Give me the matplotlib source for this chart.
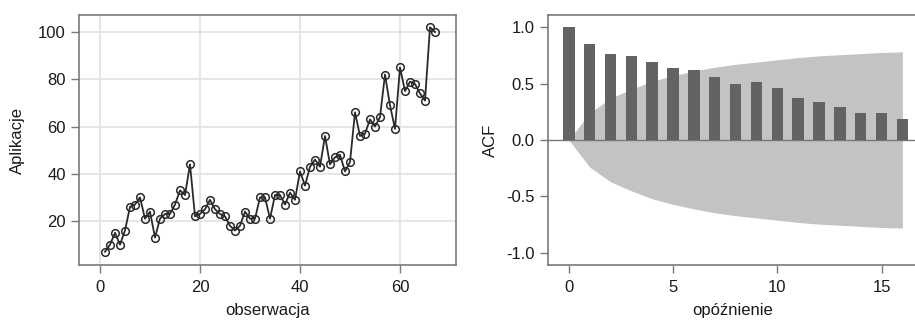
import matplotlib
matplotlib.use("Agg")
import matplotlib.pyplot as plt
import numpy as np

plt.rcParams['font.family'] = ['Liberation Sans', 'DejaVu Sans']

# ---- data ----
aplikacje = [7, 10, 15, 10, 16, 26, 27, 30, 21, 24,
             13, 21, 23, 23, 27, 33, 31, 44, 22, 23,
             25, 29, 25, 23, 22, 18, 16, 18, 24, 21,
             21, 30, 30, 21, 31, 31, 27, 32, 29, 41,
             35, 43, 46, 43, 56, 44, 47, 48, 41, 45,
             66, 56, 57, 63, 60, 64, 82, 69, 59, 85,
             75, 79, 78, 74, 71, 102, 100]
obserwacja = list(range(1, len(aplikacje) + 1))

lags = list(range(0, 17))
acf_vals = [1.0, 0.85, 0.76, 0.74, 0.69, 0.64, 0.62, 0.56, 0.50, 0.51,
            0.46, 0.37, 0.34, 0.29, 0.24, 0.24, 0.19]
band_upper = [0.0, 0.24, 0.37, 0.45, 0.52, 0.57, 0.61, 0.645, 0.67, 0.69,
              0.71, 0.73, 0.745, 0.755, 0.765, 0.775, 0.78]

left_xticks = [0, 20, 40, 60]
left_yticks = [20, 40, 60, 80, 100]
right_xticks = [0, 5, 10, 15]
right_yticks = [-1.0, -0.5, 0.0, 0.5, 1.0]
right_yticklabels = ['-1.0', '-0.5', '0.0', '0.5', '1.0']

# ---- figure ----
W, H = 915, 324
fig = plt.figure(figsize=(W / 100, H / 100), dpi=100)

def px_axes(x0, y0, x1, y1):
    return fig.add_axes([x0 / W, 1 - y1 / H, (x1 - x0) / W, (y1 - y0) / H])

frame_col = '#7a7a7a'
text_col = '#1a1a1a'
fs = 12

# Left plot
ax1 = px_axes(79, 15, 456, 265)
ax1.set_xlim(-4.2, 71.2)
ax1.set_ylim(1.4, 107.2)
ax1.set_xticks(left_xticks)
ax1.set_yticks(left_yticks)
ax1.grid(True, color='#e2e2e2', linewidth=1.2)
ax1.set_axisbelow(True)
ax1.plot(obserwacja, aplikacje, color='#2a2a2a', linewidth=1.3, zorder=3)
ax1.plot(obserwacja, aplikacje, linestyle='none', marker='o', markersize=5.5,
         markerfacecolor='none', markeredgecolor='#2a2a2a', markeredgewidth=1.1, zorder=4)
ax1.set_xlabel('obserwacja', fontsize=fs, color=text_col)
ax1.set_ylabel('Aplikacje', fontsize=fs, color=text_col)
ax1.xaxis.set_label_coords(0.5, -0.15)
ax1.yaxis.set_label_coords(-0.143, 0.5)

# Right plot
ax2 = px_axes(548, 15, 918, 265)
ax2.set_xlim(-1.0, 16.75)
ax2.set_ylim(-1.107, 1.107)
ax2.fill_between(lags, band_upper, [-u for u in band_upper], color='#c3c3c3',
                 linewidth=0, zorder=1)
ax2.axhline(0, color='#777777', linewidth=1.0, zorder=2)
ax2.bar(lags, acf_vals, width=0.55, color='#636363', zorder=3)
ax2.set_xticks(right_xticks)
ax2.set_yticks(right_yticks)
ax2.set_yticklabels(right_yticklabels)
ax2.set_xlabel('opóźnienie', fontsize=fs, color=text_col)
ax2.set_ylabel('ACF', fontsize=fs, color=text_col)
ax2.xaxis.set_label_coords(0.5, -0.15)
ax2.yaxis.set_label_coords(-0.135, 0.5)

for ax in (ax1, ax2):
    for s in ax.spines.values():
        s.set_color(frame_col)
        s.set_linewidth(1.2)
    ax.tick_params(axis='both', direction='out', length=6, width=1.0,
                   color=frame_col, labelsize=fs, labelcolor=text_col, pad=3.5)
    ax.tick_params(axis='x', pad=5)

fig.savefig('out.png', dpi=100)
